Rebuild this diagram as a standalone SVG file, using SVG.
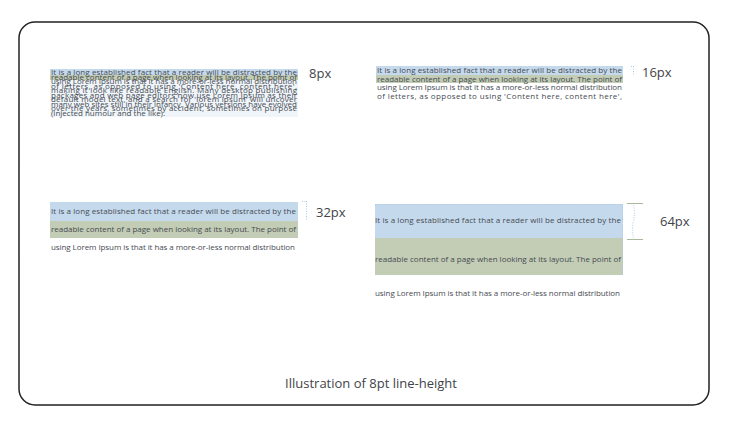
<svg xmlns="http://www.w3.org/2000/svg" width="730" height="425" viewBox="0 0 730 425">
<defs>
<style>
.t{font-family:"Open Sans","DejaVu Sans",sans-serif;font-size:8px;fill:#464b52}
.lbl{font-family:"Open Sans","DejaVu Sans",sans-serif;font-size:13px;fill:#3f444a}
.blue{fill:#c5d9ed}
.green{fill:#c3cdb5}
.dot{stroke:#a8c8e6;stroke-width:1;stroke-dasharray:1 1.5;fill:none}
.cap{stroke:#a9b79a;stroke-width:1;fill:none}
</style>
<clipPath id="c2"><rect x="370" y="60" width="260" height="43"/></clipPath>
</defs>
<rect x="19" y="22" width="690" height="383" rx="16" fill="#fff" stroke="#222" stroke-width="1.5"/>

<g id="panel-8px">
<rect class="blue" x="50" y="69" width="248" height="6"/>
<rect class="green" x="50" y="75" width="248" height="5"/>
<rect class="blue" x="50" y="80" width="248" height="37" opacity="0.25"/>
<g class="t">
<text x="51" y="75" textLength="246" lengthAdjust="spacing">It is a long established fact that a reader will be distracted by the</text>
<text x="51" y="79.5" textLength="246" lengthAdjust="spacing">readable content of a page when looking at its layout. The point of</text>
<text x="51" y="84" textLength="246" lengthAdjust="spacing">using Lorem Ipsum is that it has a more-or-less normal distribution</text>
<text x="51" y="88.5" textLength="246" lengthAdjust="spacing">of letters, as opposed to using 'Content here, content here',</text>
<text x="51" y="93" textLength="246" lengthAdjust="spacing">making it look like readable English. Many desktop publishing</text>
<text x="51" y="97.5" textLength="246" lengthAdjust="spacing">packages and web page editors now use Lorem Ipsum as their</text>
<text x="51" y="102" textLength="246" lengthAdjust="spacing">default model text, and a search for 'lorem ipsum' will uncover</text>
<text x="51" y="106.5" textLength="246" lengthAdjust="spacing">many web sites still in their infancy. Various versions have evolved</text>
<text x="51" y="111" textLength="246" lengthAdjust="spacing">over the years, sometimes by accident, sometimes on purpose</text>
<text x="51" y="115.5">(injected humour and the like).</text>
</g>
<text class="lbl" x="309" y="78">8px</text>
</g>

<g id="panel-16px">
<rect class="blue" x="376" y="66" width="247" height="9"/>
<rect class="green" x="376" y="75" width="247" height="8"/>
<g class="t" clip-path="url(#c2)">
<text x="377" y="73" textLength="245" lengthAdjust="spacing">It is a long established fact that a reader will be distracted by the</text>
<text x="377" y="81.5" textLength="245" lengthAdjust="spacing">readable content of a page when looking at its layout. The point of</text>
<text x="377" y="90" textLength="245" lengthAdjust="spacing">using Lorem Ipsum is that it has a more-or-less normal distribution</text>
<text x="377" y="98.5" textLength="245" lengthAdjust="spacing">of letters, as opposed to using 'Content here, content here',</text>
<text x="377" y="107.5" textLength="245" lengthAdjust="spacing">making it look like readable English. Many desktop publishing</text>
</g>
<path class="dot" d="M631 66.5h3M633.5 66v9"/>
<text class="lbl" x="642" y="77">16px</text>
</g>

<g id="panel-32px">
<rect class="blue" x="50" y="202" width="248" height="19"/>
<rect class="green" x="50" y="221" width="248" height="17"/>
<g class="t">
<text x="51" y="214" textLength="245" lengthAdjust="spacing">It is a long established fact that a reader will be distracted by the</text>
<text x="51" y="232" textLength="245" lengthAdjust="spacing">readable content of a page when looking at its layout. The point of</text>
<text x="51" y="250" textLength="244" lengthAdjust="spacing">using Lorem Ipsum is that it has a more-or-less normal distribution</text>
</g>
<path class="dot" d="M302 201.5h4M306.5 201v20"/>
<text class="lbl" x="316" y="217">32px</text>
</g>

<g id="panel-64px">
<rect class="blue" x="375" y="204" width="248" height="34"/>
<rect class="green" x="375" y="238" width="248" height="37"/>
<path class="dot" d="M375 204.5h248M622.5 204v71"/>
<g class="t">
<text x="375" y="223" textLength="246" lengthAdjust="spacing">It is a long established fact that a reader will be distracted by the</text>
<text x="375" y="262" textLength="246" lengthAdjust="spacing">readable content of a page when looking at its layout. The point of</text>
<text x="375" y="296" textLength="245" lengthAdjust="spacing">using Lorem Ipsum is that it has a more-or-less normal distribution</text>
</g>
<path class="cap" d="M627 203.5h16M627 239.5h16"/>
<path class="dot" d="M633.5 205q2 8 0 16t0 17"/>
<text class="lbl" x="660" y="226">64px</text>
</g>

<text class="lbl" x="371" y="388" text-anchor="middle">Illustration of 8pt line-height</text>
</svg>
